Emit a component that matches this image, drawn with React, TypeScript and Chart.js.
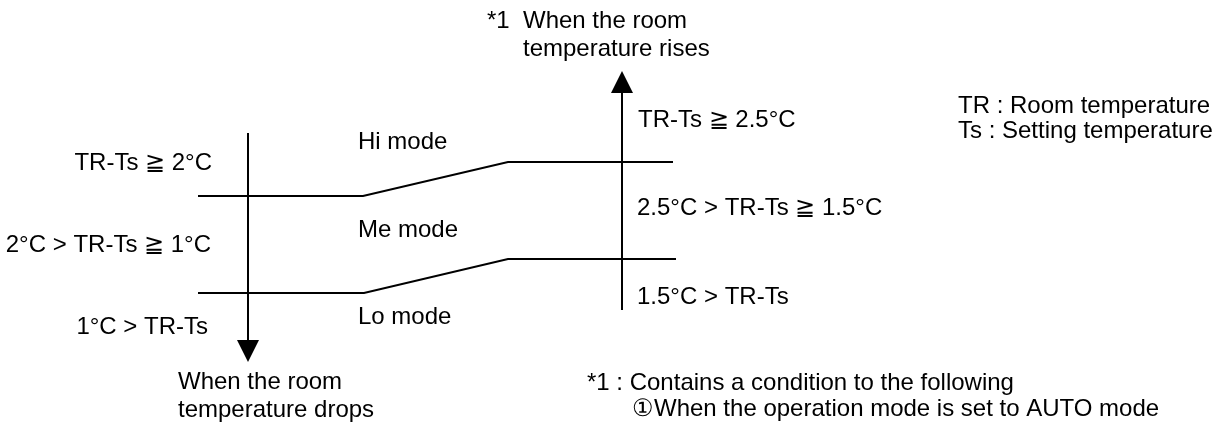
import React, { useEffect, useRef } from "react";
import { Chart, registerables } from "chart.js";

Chart.register(...registerables);

// Diagram coordinates (x: 0..1227, y: 0..427, y downward)
const upperThreshold = [
  { x: 198, y: 196 },
  { x: 363, y: 196 },
  { x: 508, y: 162 },
  { x: 673, y: 162 },
];
const lowerThreshold = [
  { x: 198, y: 293 },
  { x: 364, y: 293 },
  { x: 508, y: 259 },
  { x: 676, y: 259 },
];
const fallAxis = [
  { x: 248, y: 133 },
  { x: 248, y: 344 },
];
const riseAxis = [
  { x: 622, y: 310 },
  { x: 622, y: 90 },
];
const fallArrowHead = [{ x: 248, y: 351 }];
const riseArrowHead = [{ x: 622, y: 82 }];

type Label = { x: number; y: number; text: string; align: CanvasTextAlign };

const leftLabels: Label[] = [
  { x: 212, y: 163, text: "TR-Ts \u2267 2\u00B0C", align: "right" },
  { x: 211, y: 245, text: "2\u00B0C > TR-Ts \u2267 1\u00B0C", align: "right" },
  { x: 208, y: 327, text: "1\u00B0C > TR-Ts", align: "right" },
  { x: 178, y: 382, text: "When the room", align: "left" },
  { x: 178, y: 410, text: "temperature drops", align: "left" },
];
const modeLabels: Label[] = [
  { x: 358, y: 142, text: "Hi mode", align: "left" },
  { x: 358, y: 230, text: "Me mode", align: "left" },
  { x: 358, y: 317, text: "Lo mode", align: "left" },
];
const rightLabels: Label[] = [
  { x: 487, y: 21, text: "*1", align: "left" },
  { x: 523, y: 21, text: "When the room", align: "left" },
  { x: 523, y: 49, text: "temperature rises", align: "left" },
  { x: 638, y: 120, text: "TR-Ts \u2267 2.5\u00B0C", align: "left" },
  { x: 637, y: 208, text: "2.5\u00B0C > TR-Ts \u2267 1.5\u00B0C", align: "left" },
  { x: 637, y: 297, text: "1.5\u00B0C > TR-Ts", align: "left" },
];
const noteLabels: Label[] = [
  { x: 958, y: 106, text: "TR : Room temperature", align: "left" },
  { x: 958, y: 131, text: "Ts : Setting temperature", align: "left" },
  { x: 587, y: 383, text: "*1 : Contains a condition to the following", align: "left" },
  { x: 632, y: 409, text: "\u2460When the operation mode is set to AUTO mode", align: "left" },
];

const allLabels = [...leftLabels, ...modeLabels, ...rightLabels, ...noteLabels];

const textPlugin = {
  id: "diagramText",
  afterDatasetsDraw(chart: any) {
    const { ctx, scales } = chart;
    ctx.save();
    ctx.fillStyle = "#000";
    ctx.font = '24px "Liberation Sans", Arial, sans-serif';
    ctx.textBaseline = "middle";
    for (const l of allLabels) {
      ctx.textAlign = l.align;
      ctx.fillText(l.text, scales.x.getPixelForValue(l.x), scales.y.getPixelForValue(l.y));
    }
    ctx.restore();
  },
};

function makeArrowImage() {
  const c = document.createElement("canvas");
  c.width = 22;
  c.height = 22;
  const g = c.getContext("2d")!;
  g.fillStyle = "#000";
  g.beginPath();
  g.moveTo(11, 0);
  g.lineTo(22, 22);
  g.lineTo(0, 22);
  g.closePath();
  g.fill();
  return c;
}

const lineDs = (data: { x: number; y: number }[]) => ({
  data,
  showLine: true,
  borderColor: "#000",
  borderWidth: 2,
  pointRadius: 0,
  fill: false,
  tension: 0,
  clip: false as any,
});

const arrowDs = (data: { x: number; y: number }[], rotation: number, img: HTMLCanvasElement) => ({
  data,
  showLine: false,
  pointStyle: img,
  pointRadius: 11,
  pointRotation: rotation,
  pointBackgroundColor: "#000",
  pointBorderColor: "#000",
  pointBorderWidth: 0,
  clip: false as any,
});

export default function App() {
  const ref = useRef<HTMLCanvasElement>(null);
  useEffect(() => {
    if (!ref.current) return;
    const img = makeArrowImage();
    const chart = new Chart(ref.current, {
      type: "scatter",
      data: {
        datasets: [
          lineDs(upperThreshold),
          lineDs(lowerThreshold),
          lineDs(fallAxis),
          lineDs(riseAxis),
          arrowDs(fallArrowHead, 180, img),
          arrowDs(riseArrowHead, 0, img),
        ] as any,
      },
      options: {
        animation: false,
        responsive: true,
        maintainAspectRatio: false,
        events: [],
        layout: { padding: 0, autoPadding: false },
        plugins: { legend: { display: false }, tooltip: { enabled: false } },
        scales: {
          x: { type: "linear", min: 0, max: 1227, display: false },
          y: { type: "linear", min: 0, max: 427, reverse: true, display: false },
        },
      },
      plugins: [textPlugin],
    });
    return () => chart.destroy();
  }, []);
  return (
    <div style={{ position: "fixed", left: 0, top: 0, width: 1227, height: 427, background: "#fff" }}>
      <canvas ref={ref} />
    </div>
  );
}
